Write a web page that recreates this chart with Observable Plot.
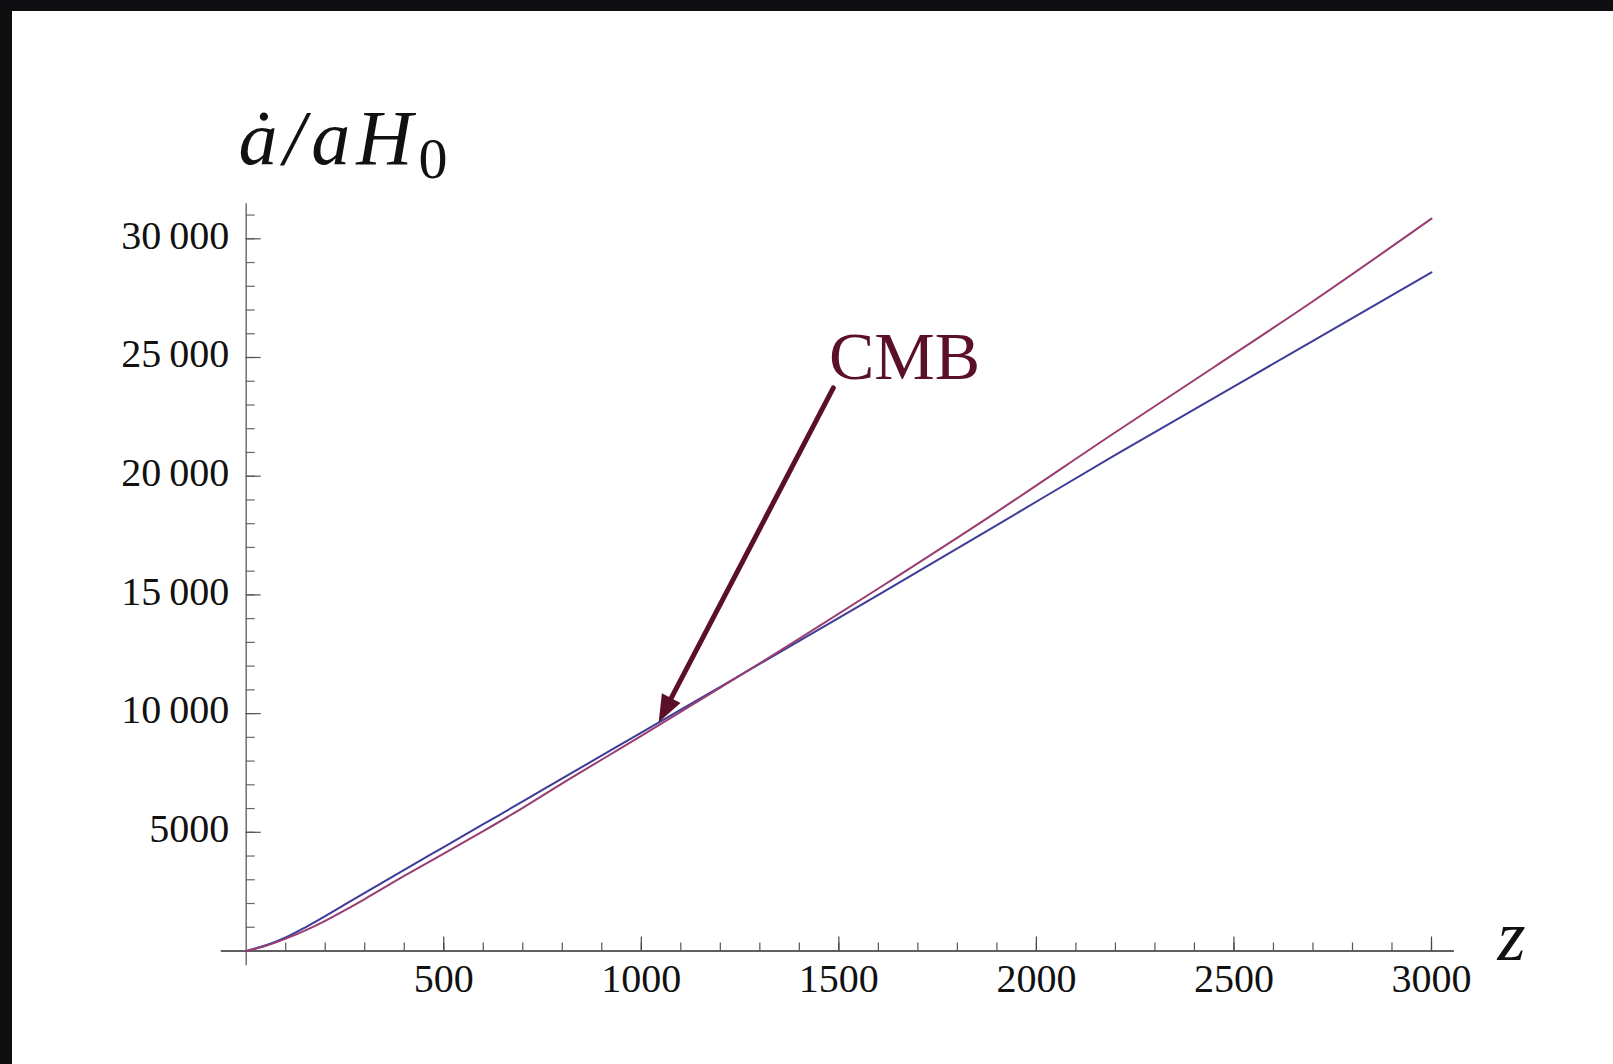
<!DOCTYPE html>
<html>
<head>
<meta charset="utf-8">
<script src="https://cdn.jsdelivr.net/npm/d3@7"></script>
<script src="https://cdn.jsdelivr.net/npm/@observablehq/plot@0.6"></script>
<style>
  html, body { margin: 0; padding: 0; background: #0f0f12; overflow: hidden; width: 1613px; height: 1064px; }
  #panel { position: absolute; left: 12px; top: 11px; right: 0; bottom: 0; background: #ffffff; }
  #chart { position: absolute; left: 0; top: 0; }
</style>
</head>
<body>
<div id="panel"></div>
<div id="chart"></div>
<script>
// ---- data ----
const redshift   = [0, 50, 100, 150, 200, 250, 300, 400, 500, 600, 700, 800, 1000, 1200, 1400, 1600, 1900, 2200, 2450, 2700, 3000];
const seriesBlue = [0, 240, 570, 1000, 1470, 1960, 2450, 3420, 4380, 5340, 6300, 7270, 9200, 11130, 13060, 15000, 17940, 20900, 23300, 25700, 28590];
const seriesPink = [0, 220, 520, 870, 1270, 1720, 2190, 3160, 4100, 5050, 6030, 7060, 9060, 11090, 13160, 15270, 18500, 21850, 24600, 27370, 30850];

const xMajorTicks = [500, 1000, 1500, 2000, 2500, 3000];
const xTickLabels = ["500", "1000", "1500", "2000", "2500", "3000"];
const xMinorTicks = d3.range(100, 3001, 100);
const yMajorTicks = [5000, 10000, 15000, 20000, 25000, 30000];
const yTickLabels = ["5000", "10\u2009000", "15\u2009000", "20\u2009000", "25\u2009000", "30\u2009000"];
const yMinorTicks = d3.range(1000, 31001, 1000);

const xAxisSpan = [-63, 3058];
const yAxisSpan = [-620, 31480];

const cmbNote = [{label: "CMB", z: 1044, value: 9640, startZ: 1486, startValue: 23720, textZ: 1475, textValue: 24115}];

// ---- layout ----
const W = 1613, H = 1064;
const mL = 245.7, mR = 182, mT = 238.3, mB = 113.5;
const xDomain = [0, 3000], yDomain = [0, 30000];
const blueColor = "#3d3d99", pinkColor = "#993d71", noteColor = "#5a0f2a";
const serif = "'Liberation Serif', 'Times New Roman', serif";

const rows = redshift.flatMap((z, i) => [
  {z, v: seriesBlue[i], s: "blue"},
  {z, v: seriesPink[i], s: "pink"}
]);

// arrow head orientation (screen space)
const kx = (W - mL - mR) / (xDomain[1] - xDomain[0]);
const ky = (H - mT - mB) / (yDomain[1] - yDomain[0]);
const n0 = cmbNote[0];
const ux = (n0.z - n0.startZ) * kx, uy = -(n0.value - n0.startValue) * ky;
const headAngle = Math.atan2(ux, -uy) * 180 / Math.PI;
const headSymbol = {
  draw(context) {
    const L = 27, w = 21;
    context.moveTo(0, 0);
    context.lineTo(-w / 2, L);
    context.lineTo(w / 2, L);
    context.closePath();
  }
};

const chart = Plot.plot({
  width: W, height: H,
  marginLeft: mL, marginRight: mR, marginTop: mT, marginBottom: mB,
  x: {domain: xDomain, axis: null},
  y: {domain: yDomain, axis: null},
  style: {background: "transparent", fontFamily: serif, fontSize: "40px", color: "#111"},
  marks: [
    Plot.ruleY([0], {x1: xAxisSpan[0], x2: xAxisSpan[1], stroke: "#2a2a2a", strokeWidth: 1.4}),
    Plot.ruleX([0], {y1: yAxisSpan[0], y2: yAxisSpan[1], stroke: "#666", strokeWidth: 1.4}),
    Plot.axisX(xMinorTicks, {anchor: "bottom", tickSize: -8, tickFormat: () => "", stroke: "#555", strokeWidth: 1.2}),
    Plot.axisX(xMajorTicks, {anchor: "bottom", tickSize: -14, tickFormat: () => "", stroke: "#444", strokeWidth: 1.2}),
    Plot.axisX(xMajorTicks, {anchor: "bottom", tickSize: 0, tickPadding: 13,
      tickFormat: d => xTickLabels[xMajorTicks.indexOf(d)], fontSize: 40, fontFamily: serif, fill: "#111"}),
    Plot.axisY(yMinorTicks, {anchor: "left", tickSize: -9, tickFormat: () => "", stroke: "#666", strokeWidth: 1.2}),
    Plot.axisY(yMajorTicks, {anchor: "left", tickSize: -15, tickFormat: () => "", stroke: "#555", strokeWidth: 1.2}),
    Plot.axisY(yMajorTicks, {anchor: "left", tickSize: 0, tickPadding: 17, dy: -3,
      tickFormat: d => yTickLabels[yMajorTicks.indexOf(d)], fontSize: 40, fontFamily: serif, fill: "#111"}),
    Plot.line(rows.filter(d => d.s === "blue"), {x: "z", y: "v", stroke: blueColor, strokeWidth: 2, curve: "monotone-x"}),
    Plot.line(rows.filter(d => d.s === "pink"), {x: "z", y: "v", stroke: pinkColor, strokeWidth: 2, curve: "monotone-x"}),
    Plot.arrow(cmbNote, {x1: "startZ", y1: "startValue", x2: "z", y2: "value",
      stroke: noteColor, strokeWidth: 5, headLength: 0, insetEnd: 20}),
    Plot.dot(cmbNote, {x: "z", y: "value", symbol: headSymbol, r: 10, fill: noteColor, stroke: "none", rotate: headAngle}),
    Plot.text(cmbNote, {x: "textZ", y: "textValue", text: "label", textAnchor: "start", lineAnchor: "bottom",
      fontSize: 68, fontFamily: serif, fill: noteColor}),
    Plot.text(["\u0227/aH0"], {frameAnchor: "top-left", dx: -7.7, dy: -75.3, textAnchor: "start", lineAnchor: "bottom",
      fontSize: 78, fontFamily: serif, fontStyle: "italic", fill: "#111", className: "ylab"}),
    Plot.text(["z"], {frameAnchor: "bottom-right", dx: 66, dy: 8.5, textAnchor: "start", lineAnchor: "bottom",
      fontSize: 72, fontFamily: serif, fontStyle: "italic", fill: "#111"})
  ]
});

document.getElementById("chart").appendChild(chart);

// y-axis label with upright subscript 0
d3.select(chart).selectAll(".ylab text").each(function () {
  const t = d3.select(this);
  t.text(null);
  t.append("tspan").attr("font-style", "italic").attr("letter-spacing", "6px").text("\u0227/aH");
  t.append("tspan").attr("font-style", "normal").attr("font-size", 58).attr("dx", 0).attr("dy", 14).text("0");
});
</script>
</body>
</html>
